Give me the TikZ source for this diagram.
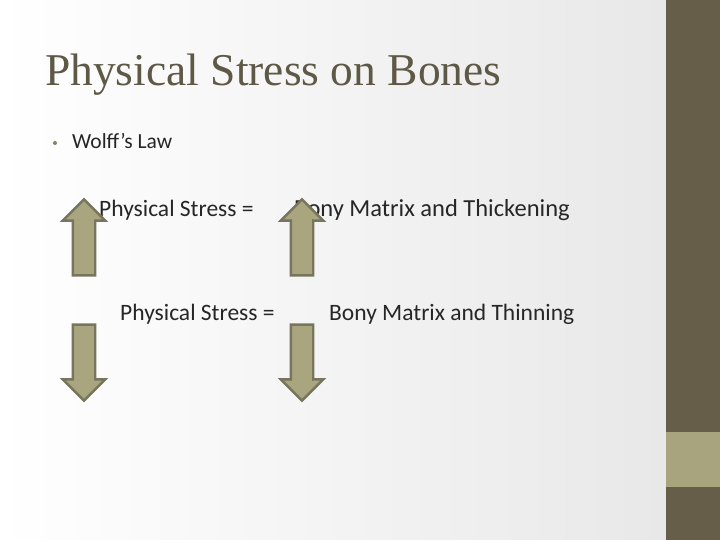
\documentclass[tikz,border=0pt]{standalone}
\usepackage{fontspec}
\setmainfont{Carlito}
\newfontfamily\titlefont{Liberation Serif}
\usepackage{tikz}
\usetikzlibrary{positioning,shapes.arrows,calc}
\usepackage{xcolor}
\definecolor{barDark}{HTML}{665E48}
\definecolor{barLight}{HTML}{A8A47E}
\definecolor{titleGray}{HTML}{5E5946}
\definecolor{arrowFill}{HTML}{A9A57F}
\definecolor{arrowLine}{HTML}{78755F}
\definecolor{bodyText}{HTML}{262626}

\begin{document}
\begin{tikzpicture}[
    x=1pt, y=-1pt,
    slidetitle/.style={
        anchor=base west, inner sep=0pt,
        font=\titlefont\fontsize{45.5}{52}\selectfont, text=titleGray
    },
    bodytext/.style={
        anchor=base west, inner sep=0pt,
        font=\fontsize{23.5}{28}\selectfont, text=bodyText
    },
    blockarrow/.style={
        single arrow, draw=arrowLine, fill=arrowFill, line width=2.4pt,
        inner sep=10pt, minimum height=76pt, minimum width=40pt,
        single arrow head extend=10pt, single arrow tip angle=90
    },
    uparrow/.style={blockarrow, shape border rotate=90},
    downarrow/.style={blockarrow, shape border rotate=270}
]

% Background and side bar
\useasboundingbox (0,0) rectangle (720,540);
\shade[left color=white, middle color=white, right color=black!9] (0,0) rectangle (666,540);
\fill[barDark] (666,0) rectangle (720,540);
\fill[barLight] (666,432) rectangle (720,487);

% Title and bullet
\node[slidetitle] (title) at (45,86) {Physical Stress on Bones};
\fill[barLight!80!black] (55,143) circle (2pt);
\node[bodytext, font=\fontsize{21.5}{26}\selectfont] (law) at (72,149) {Wolff’s Law};

% Statements
\node[bodytext] (stressUp) at (99,216) {Physical Stress =};
\node[bodytext, font=\fontsize{24.5}{29}\selectfont] (matrixUp) at (294,216) {Bony Matrix and Thickening};
\node[bodytext] (stressDown) at (120,320) {Physical Stress =};
\node[bodytext] (matrixDown) at (329,320) {Bony Matrix and Thinning};

% Block arrows (center sits on the shaft, so shifted against the head)
\node[uparrow] (upLeft) at (84,243) {};
\node[uparrow] (upRight) at (302,243) {};
\node[downarrow] (downLeft) at (84,357) {};
\node[downarrow] (downRight) at (302,357) {};

\end{tikzpicture}
\end{document}
